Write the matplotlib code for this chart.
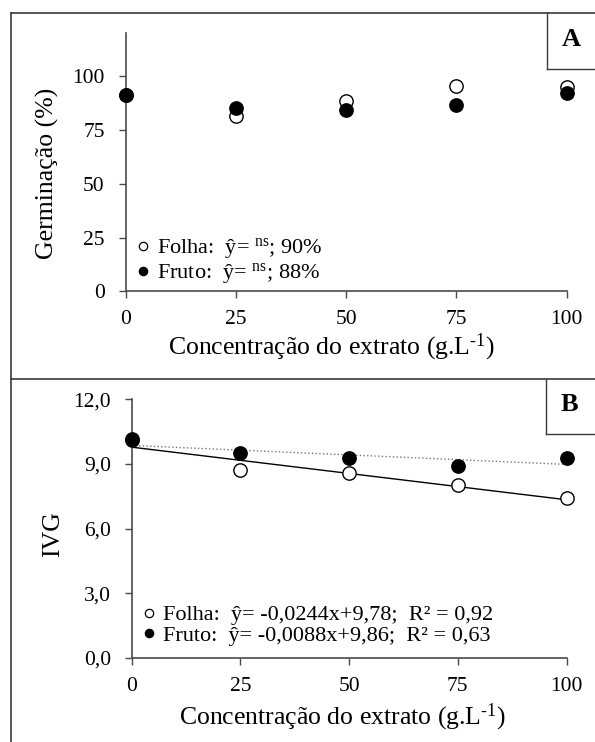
import numpy as np
import matplotlib
matplotlib.use("Agg")
import matplotlib.pyplot as plt
from matplotlib.lines import Line2D

plt.rcParams['font.family'] = ['Liberation Serif', 'DejaVu Serif']
plt.rcParams['mathtext.fontset'] = 'custom'
plt.rcParams['mathtext.rm'] = 'Liberation Serif'
plt.rcParams['mathtext.it'] = 'Liberation Serif:italic'

# ---- data ----
conc = [0, 25, 50, 75, 100]
germ_folha = [90.9, 81.5, 88.4, 95.2, 94.7]
germ_fruto = [91.1, 85.2, 84.2, 86.3, 91.9]
germ_mean = [90, 88]
ivg_folha = [10.1, 8.74, 8.60, 8.03, 7.43]
ivg_fruto = [10.14, 9.53, 9.30, 8.90, 9.30]
reg_slope = [-0.0244, -0.0088]
reg_intercept = [9.78, 9.86]
reg_r2 = [0.92, 0.63]
series_names = ['Folha', 'Fruto']
germ_ticks = [0, 25, 50, 75, 100]
ivg_ticks = [0.0, 3.0, 6.0, 9.0, 12.0]

W, H = 595, 742
fig = plt.figure(figsize=(W / 100, H / 100), dpi=100)

def fx(px):
    return px / W

def fy(py):
    return 1 - py / H

spine_col = '#4a4a4a'
TICK_FS = 15.5
LAB_FS = 18.5
LEG_FS = 16

def style(ax):
    for s in ['top', 'right']:
        ax.spines[s].set_visible(False)
    for s in ['left', 'bottom']:
        ax.spines[s].set_color(spine_col)
        ax.spines[s].set_linewidth(1.2)
    ax.tick_params(direction='out', length=5, width=1.0, color=spine_col,
                   labelsize=TICK_FS)
    ax.tick_params(axis='x', pad=8.5)
    ax.tick_params(axis='y', pad=10)
    ax.set_facecolor('none')

def dec(v, n):
    return f"{v:.{n}f}".replace('.', ',')

XLABEL = 'Concentração do extrato (g.L$^{\\text{-}1}$)'

# ---- panel A ----
axA = fig.add_axes([fx(125.5), fy(291.5), fx(566.6 - 125.5), (291.5 - 32.7) / H])
style(axA)
axA.set_xlim(0, 100)
axA.set_ylim(0, 120)
axA.set_xticks(conc)
axA.set_yticks(germ_ticks)
axA.plot(conc, germ_folha, 'o', ms=9.6, mfc='white', mec='black', mew=1.0,
         clip_on=False, zorder=3)
axA.plot(conc, germ_fruto, 'o', ms=9.6, mfc='black', mec='black', mew=1.0,
         clip_on=False, zorder=4)
axA.set_xlabel(XLABEL, fontsize=LAB_FS)
axA.set_ylabel('Germinação (%)', fontsize=LAB_FS)
axA.xaxis.set_label_coords(0.468, -0.214)
axA.xaxis.label.set_va('center')
axA.yaxis.set_label_coords(-0.178, 0.457)
axA.yaxis.label.set_va('center')

hA = [Line2D([], [], ls='', marker='o', ms=6, mfc='white', mec='black', mew=0.9),
      Line2D([], [], ls='', marker='o', ms=6, mfc='black', mec='black', mew=0.9)]
labA = [f"{n}:  ŷ= $^{{\\mathrm{{ns}}}}$; {m}%" for n, m in zip(series_names, germ_mean)]
legA = axA.legend(hA, labA, loc='lower left', bbox_to_anchor=(0.0, -0.023),
                  frameon=False, fontsize=LEG_FS, handlelength=0.6,
                  handletextpad=0.3, labelspacing=0.0, borderaxespad=0.3,
                  borderpad=0.2)

# ---- panel B ----
axB = fig.add_axes([fx(131.7), fy(658), fx(566.6 - 131.7), (658 - 399.3) / H])
style(axB)
axB.set_xlim(0, 100)
axB.set_ylim(0, 12)
axB.set_xticks(conc)
axB.set_yticks(ivg_ticks)
axB.set_yticklabels([dec(t, 1) for t in ivg_ticks])
xs = np.array([conc[0], conc[-1]], dtype=float)
axB.plot(xs, reg_intercept[0] + reg_slope[0] * xs, '-', color='black', lw=1.0, zorder=2)
axB.plot(xs, reg_intercept[1] + reg_slope[1] * xs, ':', color='#777777', lw=1.0, zorder=2)
axB.plot(conc, ivg_folha, 'o', ms=9.6, mfc='white', mec='black', mew=1.0,
         clip_on=False, zorder=3)
axB.plot(conc, ivg_fruto, 'o', ms=9.6, mfc='black', mec='black', mew=1.0,
         clip_on=False, zorder=4)
axB.set_xlabel(XLABEL, fontsize=LAB_FS)
axB.set_ylabel('IVG', fontsize=LAB_FS)
axB.xaxis.set_label_coords(0.484, -0.228)
axB.xaxis.label.set_va('center')
axB.yaxis.set_label_coords(-0.181, 0.479)
axB.yaxis.label.set_va('center')

hB = [Line2D([], [], ls='', marker='o', ms=6, mfc='white', mec='black', mew=0.9),
      Line2D([], [], ls='', marker='o', ms=6, mfc='black', mec='black', mew=0.9)]
labB = [f"{n}:  ŷ= {dec(s, 4)}x+{dec(b, 2)};  R² = {dec(r, 2)}"
        for n, s, b, r in zip(series_names, reg_slope, reg_intercept, reg_r2)]
legB = axB.legend(hB, labB, loc='lower left', bbox_to_anchor=(0.0, 0.004),
                  frameon=False, fontsize=LEG_FS, handlelength=0.6,
                  handletextpad=0.3, labelspacing=0.0, borderaxespad=0.3,
                  borderpad=0.2)

# ---- outer frame and panel letter boxes ----
fc = '#3a3a3a'
fig.add_artist(Line2D([fx(11), fx(11)], [0, fy(12.7)], color=fc, lw=1.2))
fig.add_artist(Line2D([fx(11), 1], [fy(12.7), fy(12.7)], color=fc, lw=1.2))
fig.add_artist(Line2D([fx(11), 1], [fy(379), fy(379)], color=fc, lw=1.2))
fig.add_artist(Line2D([fx(546.7), fx(546.7)], [fy(12.7), fy(69)], color=fc, lw=1.0))
fig.add_artist(Line2D([fx(546.7), 1], [fy(69), fy(69)], color=fc, lw=1.0))
fig.add_artist(Line2D([fx(545.7), fx(545.7)], [fy(379), fy(434)], color=fc, lw=1.0))
fig.add_artist(Line2D([fx(545.7), 1], [fy(434), fy(434)], color=fc, lw=1.0))
fig.text(fx(571), fy(40), 'A', fontsize=19, fontweight='bold', ha='center', va='center')
fig.text(fx(569), fy(404), 'B', fontsize=19, fontweight='bold', ha='center', va='center')

fig.savefig('out.png', dpi=100)
